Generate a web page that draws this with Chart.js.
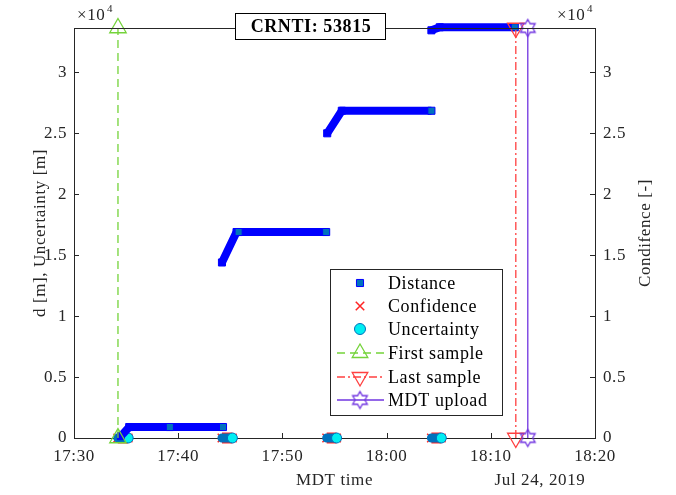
<!DOCTYPE html>
<html>
<head>
<meta charset="utf-8">
<script src="https://cdn.jsdelivr.net/npm/chart.js@4.4.1/dist/chart.umd.min.js"></script>
<style>
html,body{margin:0;padding:0;background:#fff;}
#wrap{width:676px;height:495px;position:relative;}
</style>
</head>
<body>
<div id="wrap"><canvas id="c"></canvas></div>
<script>
// ---- data (time in minutes after 17:30, values in metres / confidence) ----
const xTickValues = [0, 10, 20, 30, 40, 50];
const xTickLabels = ['17:30', '17:40', '17:50', '18:00', '18:10', '18:20'];
const yTickValues = [0, 5000, 10000, 15000, 20000, 25000, 30000];
const yTickLabels = ['0', '0.5', '1', '1.5', '2', '2.5', '3'];
const yMax = 33640;

const distanceSeg1 = [[4.5, 150], [5.3, 900], [9.2, 900], [14.3, 900]];
const distanceSeg2 = [[14.2, 14400], [15.6, 16900], [15.8, 16900], [24.2, 16900]];
const distanceSeg3 = [[24.3, 25000], [25.7, 26850], [34.3, 26850]];
const distanceSeg4 = [[34.3, 33450], [35.1, 33700], [42.3, 33700]];

const clusterStart = [4.2, 14.2, 24.25, 34.3];
const clusterEnd   = [5.2, 15.2, 25.2, 35.25];
const confidenceValues  = [0, 0, 0, 0];
const uncertaintyValues = [0, 0, 0, 0];

const firstSampleTime = 4.22;
const lastSampleTime  = 42.4;
const mdtUploadTime   = 43.55;

// ---- styles ----
const axisColor = '#262626';
const FONT = "'Liberation Serif', 'Times New Roman', serif";
const blue = '#0000FF', teal = '#0072BD', cyan = '#00EEF2';
const confRed = '#FF2424';
const green = '#74D33A', red = '#FF4040', purple = '#7034E0';

function hexagram(color, R) {
  const size = Math.ceil(2 * R + 4);
  const c = document.createElement('canvas');
  c.width = size; c.height = size;
  const g = c.getContext('2d');
  g.strokeStyle = color; g.lineWidth = 1.3;
  const cx = size / 2, cy = size / 2, r = R / Math.sqrt(3);
  g.beginPath();
  for (let i = 0; i < 12; i++) {
    const a = -Math.PI / 2 + i * Math.PI / 6;
    const rr = i % 2 === 0 ? R : r;
    const px = cx + rr * Math.cos(a), py = cy + rr * Math.sin(a);
    if (i) g.lineTo(px, py); else g.moveTo(px, py);
  }
  g.closePath(); g.stroke();
  return c;
}
const hexImg = hexagram(purple, 8.5);

// ---- build dataset points from the arrays ----
const distData = [];
[distanceSeg1, distanceSeg2, distanceSeg3, distanceSeg4].forEach(seg => {
  seg.forEach((p, k) => distData.push({x: p[0], y: p[1], k}));
  distData.push({x: seg[seg.length - 1][0], y: null});
});
function clusterData(values) {
  const out = [];
  clusterStart.forEach((s, i) => {
    out.push({x: s, y: values[i], k: 0});
    out.push({x: clusterEnd[i], y: values[i], k: 1});
    out.push({x: clusterEnd[i], y: null});
  });
  return out;
}
const vline = t => [{x: t, y: 0}, {x: t, y: yMax}];

// ---- plugins ----
function drawMarker(ctx, ds, x, y) {
  const opts = {
    pointStyle: ds.pointStyle,
    radius: typeof ds.legendRadius === 'number' ? ds.legendRadius : ds.pointRadius,
    rotation: ds.pointRotation || 0,
    borderWidth: ds.pointBorderWidth
  };
  ctx.fillStyle = ds.legendFill || ds.pointBackgroundColor;
  ctx.strokeStyle = ds.pointBorderColor;
  ctx.lineWidth = ds.pointBorderWidth;
  Chart.helpers.drawPoint(ctx, opts, x, y);
}

const decorPlugin = {
  id: 'decor',
  beforeDraw(chart) {
    chart.ctx.letterSpacing = '0.6px';
  },
  afterDraw(chart) {
    const ctx = chart.ctx;
    const ca = chart.chartArea;
    const xs = chart.scales.x, ys = chart.scales.y, y2 = chart.scales.y2;
    ctx.save();
    ctx.strokeStyle = axisColor; ctx.lineWidth = 1;
    ctx.beginPath();
    // top box line
    ctx.moveTo(ca.left, Math.round(ca.top) + 0.5); ctx.lineTo(ca.right, Math.round(ca.top) + 0.5);
    // inner ticks
    xTickValues.forEach(v => {
      const px = Math.round(xs.getPixelForValue(v)) + 0.5;
      ctx.moveTo(px, ca.bottom); ctx.lineTo(px, ca.bottom - 5);
    });
    yTickValues.forEach(v => {
      const py = Math.round(ys.getPixelForValue(v)) + 0.5;
      ctx.moveTo(ca.left, py); ctx.lineTo(ca.left + 5, py);
      const py2 = Math.round(y2.getPixelForValue(v)) + 0.5;
      ctx.moveTo(ca.right, py2); ctx.lineTo(ca.right - 5, py2);
    });
    ctx.stroke();

    // exponent labels
    ctx.fillStyle = axisColor;
    ctx.textBaseline = 'alphabetic'; ctx.textAlign = 'left';
    ctx.font = '17px ' + FONT;
    ctx.fillText('\u00d710', 77, 20);
    ctx.fillText('\u00d710', 557, 20);
    ctx.font = '11px ' + FONT;
    ctx.fillText('4', 107, 12);
    ctx.fillText('4', 587, 12);

    // date under axis
    ctx.font = '17px ' + FONT;
    ctx.textAlign = 'center'; ctx.textBaseline = 'middle';
    ctx.fillText('Jul 24, 2019', 540, 481);

    // right axis title (reads bottom to top)
    ctx.save();
    ctx.translate(646, (ca.top + ca.bottom) / 2);
    ctx.rotate(-Math.PI / 2);
    ctx.fillText('Condifence [-]', 0, 0);
    ctx.restore();

    // title box
    ctx.fillStyle = '#fff';
    ctx.fillRect(235.5, 13.5, 150, 26);
    ctx.strokeStyle = '#000'; ctx.lineWidth = 1;
    ctx.strokeRect(235.5, 13.5, 150, 26);
    ctx.fillStyle = '#000';
    ctx.font = 'bold 18px ' + FONT;
    ctx.fillText('CRNTI: 53815', 311, 27);

    // legend
    const L = {x: 330.5, y: 269.5, w: 172, h: 146};
    ctx.fillStyle = '#fff';
    ctx.fillRect(L.x, L.y, L.w, L.h);
    ctx.strokeStyle = axisColor; ctx.lineWidth = 1;
    ctx.strokeRect(L.x, L.y, L.w, L.h);
    const rowY = [283, 306, 329, 353, 377, 400];
    chart.data.datasets.forEach((ds, i) => {
      const y = rowY[i];
      if (ds.legendLine) {
        ctx.save();
        ctx.strokeStyle = ds.borderColor; ctx.lineWidth = ds.borderWidth;
        ctx.setLineDash(ds.borderDash || []);
        ctx.beginPath(); ctx.moveTo(337, y); ctx.lineTo(384, y); ctx.stroke();
        ctx.restore();
      }
      ctx.save();
      drawMarker(ctx, ds, 360, y);
      ctx.restore();
      ctx.fillStyle = '#000';
      ctx.font = '18px ' + FONT;
      ctx.textAlign = 'left'; ctx.textBaseline = 'middle';
      ctx.fillText(ds.label, 388, y + 1);
    });
    ctx.restore();
  }
};

const tickFont = {family: FONT, size: 17};

new Chart(document.getElementById('c'), {
  type: 'line',
  data: {
    datasets: [
      {
        label: 'Distance', data: distData, yAxisID: 'y', order: 3, clip: false,
        borderColor: blue, borderWidth: 8, borderCapStyle: 'butt',
        pointStyle: 'rect', pointRadius: 5, pointBorderWidth: 1, pointBorderColor: blue,
        pointBackgroundColor: c => (c.raw && c.raw.k < 2) ? blue : teal,
        legendFill: teal, legendRadius: 5
      },
      {
        label: 'Confidence', data: clusterData(confidenceValues), yAxisID: 'y2', order: 5, clip: false,
        borderColor: confRed, borderWidth: 11, borderCapStyle: 'butt',
        pointStyle: 'crossRot', pointRadius: 6, pointBorderWidth: 1.5,
        pointBorderColor: confRed, pointBackgroundColor: confRed,
        legendRadius: 6
      },
      {
        label: 'Uncertainty', data: clusterData(uncertaintyValues), yAxisID: 'y', order: 4, clip: false,
        borderColor: teal, borderWidth: 9, borderCapStyle: 'round',
        pointStyle: 'circle', pointRadius: c => (c.raw && c.raw.k === 1) ? 5 : 0,
        pointBorderWidth: 1, pointBorderColor: teal, pointBackgroundColor: cyan,
        legendRadius: 5.5
      },
      {
        label: 'First sample', data: vline(firstSampleTime), yAxisID: 'y', order: 2, clip: false,
        borderColor: green, borderWidth: 1.3, borderDash: [8, 5],
        pointStyle: 'triangle', pointRadius: 9.5, pointBorderWidth: 1.3,
        pointBorderColor: green, pointBackgroundColor: 'rgba(0,0,0,0)',
        legendLine: true, legendRadius: 9
      },
      {
        label: 'Last sample', data: vline(lastSampleTime), yAxisID: 'y', order: 1, clip: false,
        borderColor: red, borderWidth: 1.3, borderDash: [8, 3, 2, 3],
        pointStyle: 'triangle', pointRotation: 180, pointRadius: 9.5, pointBorderWidth: 1.3,
        pointBorderColor: red, pointBackgroundColor: 'rgba(0,0,0,0)',
        legendLine: true, legendRadius: 9
      },
      {
        label: 'MDT upload', data: vline(mdtUploadTime), yAxisID: 'y', order: 0, clip: false,
        borderColor: purple, borderWidth: 1.3,
        pointStyle: hexImg, pointRadius: 9, pointBorderWidth: 1.3,
        pointBorderColor: purple, pointBackgroundColor: 'rgba(0,0,0,0)',
        legendLine: true
      }
    ]
  },
  options: {
    responsive: true, maintainAspectRatio: false, animation: false,
    devicePixelRatio: 1,
    layout: {padding: {top: 28, left: 0, right: 0, bottom: 0}},
    elements: {line: {tension: 0, fill: false}},
    plugins: {legend: {display: false}, tooltip: {enabled: false}, title: {display: false}},
    scales: {
      x: {
        type: 'linear', position: 'bottom', min: 0, max: 50,
        afterBuildTicks: s => { s.ticks = xTickValues.map(v => ({value: v})); },
        afterFit: s => { s.height = 57; },
        grid: {display: false, drawTicks: false},
        border: {display: true, color: axisColor, width: 1},
        ticks: {padding: 8, font: tickFont, color: axisColor, maxRotation: 0, autoSkip: false,
          callback: v => xTickLabels[xTickValues.indexOf(v)]},
        title: {display: true, text: 'MDT time', font: tickFont, color: axisColor, padding: {top: 0, bottom: 4}}
      },
      y: {
        type: 'linear', position: 'left', min: 0, max: yMax,
        afterBuildTicks: s => { s.ticks = yTickValues.map(v => ({value: v})); },
        afterFit: s => { s.width = 74; },
        grid: {display: false, drawTicks: false},
        border: {display: true, color: axisColor, width: 1},
        ticks: {padding: 7, font: tickFont, color: axisColor,
          callback: v => yTickLabels[yTickValues.indexOf(v)]},
        title: {display: true, text: 'd [m], Uncertainty [m]', font: tickFont, color: axisColor, padding: {top: 30, bottom: 0}}
      },
      y2: {
        type: 'linear', position: 'right', min: 0, max: yMax,
        afterBuildTicks: s => { s.ticks = yTickValues.map(v => ({value: v})); },
        afterFit: s => { s.width = 81; },
        grid: {display: false, drawTicks: false},
        border: {display: true, color: axisColor, width: 1},
        ticks: {padding: 8, font: tickFont, color: axisColor,
          callback: v => yTickLabels[yTickValues.indexOf(v)]},
        title: {display: false}
      }
    }
  },
  plugins: [decorPlugin]
});
</script>
</body>
</html>
